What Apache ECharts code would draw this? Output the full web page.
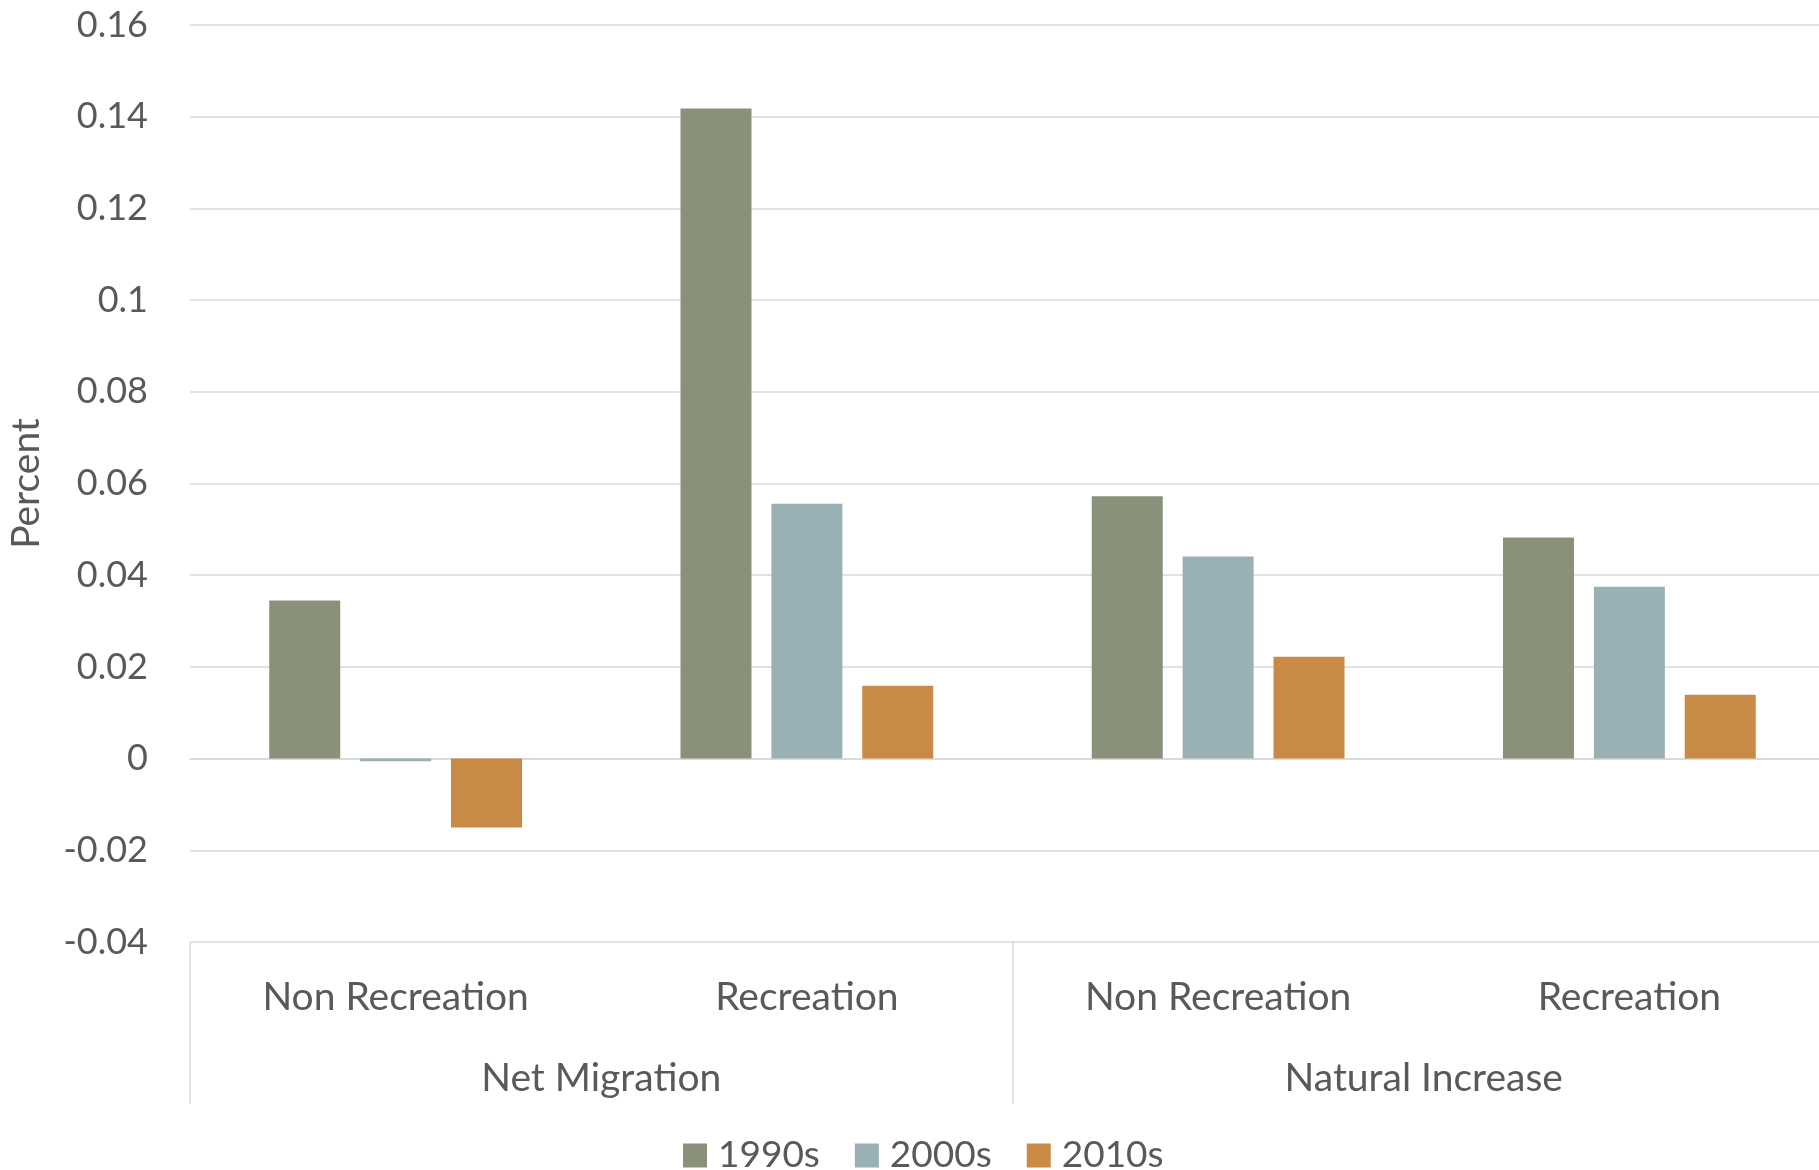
<!DOCTYPE html>
<html>
<head>
<meta charset="utf-8">
<title>Population change components</title>
<script src="https://cdn.jsdelivr.net/npm/echarts@6/dist/echarts.min.js"></script>
<style>
  html, body { margin: 0; padding: 0; background: #ffffff; }
  #chart { width: 1819px; height: 1170px; }
</style>
</head>
<body>
<div id="chart"></div>
<script>
// Sub-categories (inner axis level) and their parent groups (outer level)
const subCategories = ['Non Recreation', 'Recreation', 'Non Recreation', 'Recreation'];
const groupCategories = ['Net Migration', 'Natural Increase'];

// Decade series, percent change per county type
const seriesNames = ['1990s', '2000s', '2010s'];
const values1990s = [0.0345, 0.1418, 0.0572, 0.0482];
const values2000s = [-0.0006, 0.0556, 0.0441, 0.0375];
const values2010s = [-0.0150, 0.0159, 0.0222, 0.0139];

// Value-axis tick labels
const yTickLabels = ['-0.04', '-0.02', '0', '0.02', '0.04', '0.06', '0.08', '0.1', '0.12', '0.14', '0.16'];

const colors = ['#8A917B', '#99B1B5', '#C98A46'];
const textColor = '#595959';
const lineColor = '#D9D9D9';
const fontFamily = 'Lato, "Open Sans", sans-serif';

const chart = echarts.init(document.getElementById('chart'), null, { renderer: 'canvas' });

const seriesData = [values1990s, values2000s, values2010s];

const option = {
  backgroundColor: '#ffffff',
  animation: false,
  color: colors,
  // plot area runs slightly past the right edge of the canvas
  grid: {
    left: 190, width: 1645, top: 25, bottom: 228,
    containLabel: false,
    outerBoundsMode: 'none'
  },
  legend: {
    data: seriesNames,
    left: 678,
    top: 1132,
    itemWidth: 24,
    itemHeight: 24,
    itemGap: 35,
    icon: 'rect',
    textStyle: {
      fontFamily: fontFamily,
      fontSize: 37,
      lineHeight: 37,
      color: textColor,
      padding: [0, 0, 0, 6]
    }
  },
  xAxis: [
    {
      type: 'category',
      data: subCategories,
      position: 'bottom',
      axisLine: { show: true, lineStyle: { color: lineColor, width: 1.5 } },
      axisTick: { show: false },
      axisLabel: {
        fontFamily: fontFamily,
        fontSize: 39,
        lineHeight: 39,
        color: textColor,
        margin: 36,
        interval: 0
      },
      splitLine: { show: false }
    },
    {
      type: 'category',
      data: groupCategories,
      position: 'bottom',
      axisLine: { show: false },
      axisTick: { show: true, length: 162, lineStyle: { color: lineColor, width: 1.5 } },
      axisLabel: {
        fontFamily: fontFamily,
        fontSize: 39,
        lineHeight: 39,
        color: textColor,
        margin: 117,
        interval: 0
      },
      splitLine: { show: false }
    }
  ],
  yAxis: {
    type: 'value',
    min: -0.04,
    max: 0.16,
    interval: 0.02,
    name: 'Percent',
    nameLocation: 'middle',
    nameRotate: 90,
    nameGap: 144,
    nameTextStyle: { fontFamily: fontFamily, fontSize: 39, color: textColor },
    axisLine: { show: false },
    axisTick: { show: false },
    axisLabel: {
      fontFamily: fontFamily,
      fontSize: 36,
      color: textColor,
      margin: 42,
      formatter: function (v) {
        const idx = Math.round((v + 0.04) / 0.02);
        return yTickLabels[idx] !== undefined ? yTickLabels[idx] : String(v);
      }
    },
    splitLine: { show: true, lineStyle: { color: lineColor, width: 1.5 } }
  },
  series: seriesNames.map(function (name, i) {
    return {
      name: name,
      type: 'bar',
      xAxisIndex: 0,
      data: seriesData[i],
      barWidth: 71,
      barGap: '28%',
      itemStyle: { color: colors[i] }
    };
  })
};

chart.setOption(option);
</script>
</body>
</html>
